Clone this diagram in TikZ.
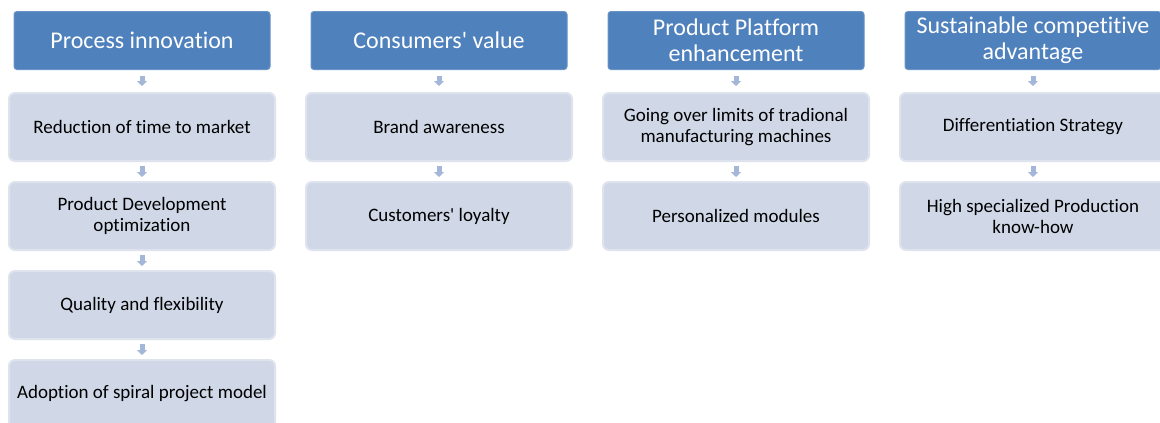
\documentclass[tikz,border=0pt]{standalone}
\usepackage{fontspec}
\setmainfont{Carlito}[Ligatures={TeXOff,NoCommon}]
\usetikzlibrary{%
  arrows.meta,%
  positioning,% wg. " of "
  calc%
}
\definecolor{headblue}{RGB}{79,129,189}
\definecolor{boxfill}{RGB}{208,216,232}
\definecolor{boxline}{RGB}{222,227,237}
\definecolor{arrowblue}{RGB}{165,183,216}

\begin{document}
\begin{tikzpicture}[
  x=1pt, y=-1pt,
  node distance=19pt,
  head/.style={rectangle, rounded corners=3pt, fill=headblue, draw=headblue!85!white, line width=1pt, text=white, minimum width=256pt, minimum height=58pt, align=center, inner sep=0pt, font=\fontsize{24}{26}\selectfont},
  item/.style={rectangle, rounded corners=6pt, fill=boxfill, draw=boxline, line width=2pt, text=black, minimum width=266pt, minimum height=68pt, align=center, inner sep=0pt, font=\fontsize{19}{21}\selectfont},
  flow/.style={draw=arrowblue, line width=5pt, -{Triangle[width=10pt,length=5pt]}, shorten <=#1, shorten >=#1},
  flow/.default=4pt]

\useasboundingbox (0,0) rectangle (1160,423);

\begin{scope}
\clip (0,0) rectangle (1160,423);

% headers
\node[head] (h0) at (142,40.5) {Process innovation};
\node[head] (h1) at (439,40.5) {Consumers' value};
\node[head] (h2) at (736,40.5) {Product Platform\\enhancement};
\node[head] (h3) at (1033,40.5) {Sustainable competitive\\advantage};

% column 0
\node[item, below=22pt of h0] (a0) {Reduction of time to market};
\node[item, below=of a0] (a1) {Product Development\\optimization};
\node[item, below=of a1] (a2) {Quality and flexibility};
\node[item, below=of a2] (a3) {Adoption of spiral project model};

% column 1
\node[item, below=22pt of h1] (b0) {Brand awareness};
\node[item, below=of b0] (b1) {Customers' loyalty};

% column 2
\node[item, below=22pt of h2] (c0) {Going over limits of tradional\\manufacturing machines};
\node[item, below=of c0] (c1) {Personalized modules};

% column 3
\node[item, below=22pt of h3] (d0) {Differentiation Strategy};
\node[item, below=of d0] (d1) {High specialized Production\\know-how};

\draw [flow=6pt] (h0) -- (a0);
\draw [flow] (a0) -- (a1);
\draw [flow] (a1) -- (a2);
\draw [flow] (a2) -- (a3);

\draw [flow=6pt] (h1) -- (b0);
\draw [flow] (b0) -- (b1);

\draw [flow=6pt] (h2) -- (c0);
\draw [flow] (c0) -- (c1);

\draw [flow=6pt] (h3) -- (d0);
\draw [flow] (d0) -- (d1);
\end{scope}

\end{tikzpicture}
\end{document}
